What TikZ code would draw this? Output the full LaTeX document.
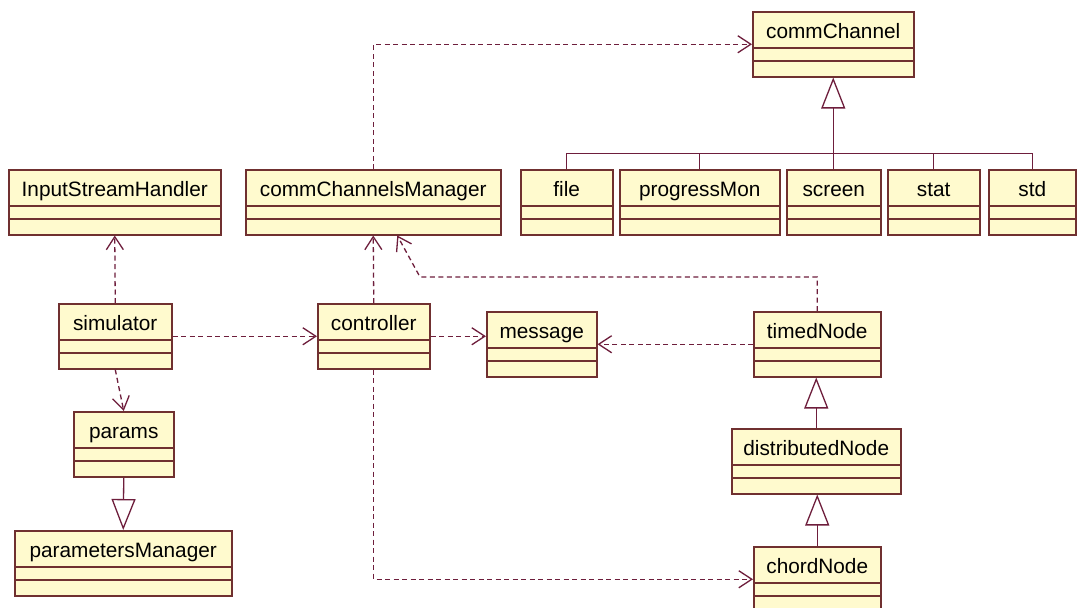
\documentclass[tikz,border=0pt]{standalone}
\usepackage{fontspec}
\setmainfont{Liberation Sans}
\usetikzlibrary{arrows.meta}
\definecolor{boxline}{RGB}{112,48,48}
\definecolor{boxfill}{RGB}{255,250,206}
\definecolor{linkcol}{RGB}{110,30,60}

\begin{document}
\begin{tikzpicture}[x=1pt, y=-1pt,
  cls/.style={draw=boxline, fill=boxfill, line width=1.5pt, anchor=north west,
    inner xsep=0pt, inner ysep=0pt, text height=27pt, text depth=38pt,
    font=\fontsize{20.8}{24}\selectfont,
    path picture={\draw[boxline, line width=1.5pt]
      ([yshift=-36pt]path picture bounding box.north west) -- ([yshift=-36pt]path picture bounding box.north east)
      ([yshift=-49pt]path picture bounding box.north west) -- ([yshift=-49pt]path picture bounding box.north east);}},
  dep/.style={draw=linkcol, line width=1.3pt, dash pattern=on 5pt off 3.5pt,
    -{Straight Barb[length=13pt,width=17pt]}},
  gen/.style={draw=linkcol, line width=1.3pt, -{Triangle[open,length=31pt,width=24pt]}},
  bar/.style={draw=linkcol, line width=1.3pt}]
\fill[white] (0,0) rectangle (1077,608);
\useasboundingbox (0,0) rectangle (1077,608);

\node[cls, minimum width=161pt] (cchan) at (752,11) {commChannel};
\node[cls, minimum width=212pt] (ish) at (8,169) {InputStreamHandler};
\node[cls, minimum width=255pt] (cmgr) at (245,169) {commChannelsManager};
\node[cls, minimum width=92pt] (file) at (520,169) {file};
\node[cls, minimum width=160pt] (pmon) at (619,169) {progressMon};
\node[cls, minimum width=94pt] (screen) at (786,169) {screen};
\node[cls, minimum width=92pt] (stat) at (887,169) {stat};
\node[cls, minimum width=87pt] (std) at (988,169) {std};
\node[cls, minimum width=113pt] (sim) at (58,303) {simulator};
\node[cls, minimum width=112pt] (ctrl) at (317,303) {controller};
\node[cls, minimum width=110pt] (msg) at (486,311) {message};
\node[cls, minimum width=127pt] (timed) at (753,311) {timedNode};
\node[cls, minimum width=100pt] (params) at (73,411) {params};
\node[cls, minimum width=169pt] (dist) at (731,428) {distributedNode};
\node[cls, minimum width=217pt] (pmgr) at (14,530) {parametersManager};
\node[cls, minimum width=127pt] (chord) at (753,546) {chordNode};

\coordinate (bus) at ([yshift=-76pt]cchan.south);
\coordinate (bend) at (420,277);

\draw[dep] (cmgr.north) |- (cchan.west);
\foreach \c in {file,pmon,screen,stat,std}
  \draw[bar] (\c.north) |- (bus);
\draw[gen] (bus) -- (cchan.south);
\draw[dep] (sim.north) -- (ish.south);
\draw[dep] (sim.south) -- (params.north);
\draw[gen] (params.south) -- (pmgr.north);
\draw[dep] (sim.east) -- (ctrl.west);
\draw[dep] (ctrl.north) -- (cmgr.south);
\draw[dep] (ctrl.east) -- (ctrl.east -| msg.west);
\draw[dep] (timed.west) -- (msg.east);
\draw[dep] (timed.north) |- (bend) -- ([xshift=24pt]cmgr.south);
\draw[dep] (ctrl.south) |- (chord.west);
\draw[gen] (dist.north) -- (dist.north |- timed.south);
\draw[gen] (chord.north) -- (chord.north |- dist.south);
\end{tikzpicture}
\end{document}
